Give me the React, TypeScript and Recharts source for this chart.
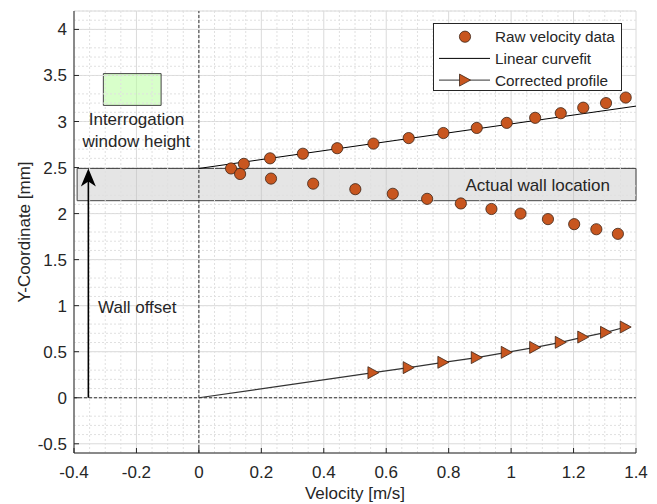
import React from "react";
import {
  ComposedChart,
  Line,
  Scatter,
  XAxis,
  YAxis,
  CartesianGrid,
  ReferenceLine,
  ReferenceArea,
  ReferenceDot,
  Legend,
} from "recharts";

const FONT = '"Liberation Sans", Arial, Helvetica, sans-serif';
const INK = "#262626";
const ORANGE = "#c8561f";
const EDGE = "#3d2416";
const FS = 17;

// axis ticks
const xTicks = [-0.4, -0.2, 0, 0.2, 0.4, 0.6, 0.8, 1, 1.2, 1.4];
const yTicks = [-0.5, 0, 0.5, 1, 1.5, 2, 2.5, 3, 3.5, 4];
const xDomain = [-0.4, 1.4];
const yDomain = [-0.6, 4.2];

// raw PIV velocity data (upper and mirrored branch)
const rawUpperX = [0.103, 0.144, 0.228, 0.333, 0.443, 0.559, 0.672, 0.783, 0.89, 0.986, 1.077, 1.159, 1.231, 1.304, 1.367];
const rawUpperY = [2.49, 2.54, 2.6, 2.65, 2.71, 2.76, 2.82, 2.875, 2.93, 2.985, 3.04, 3.09, 3.15, 3.2, 3.26];
const rawLowerX = [0.132, 0.231, 0.366, 0.501, 0.621, 0.731, 0.839, 0.937, 1.03, 1.118, 1.202, 1.273, 1.342];
const rawLowerY = [2.43, 2.38, 2.325, 2.265, 2.215, 2.16, 2.11, 2.05, 2.0, 1.94, 1.885, 1.83, 1.78];

// linear fit through the upper branch
const fitX = [0, 1.4];
const fitY = [2.49, 3.167];

// corrected profile (first point is the origin, no marker)
const corrX = [0, 0.559, 0.672, 0.783, 0.89, 0.986, 1.077, 1.159, 1.231, 1.304, 1.367];
const corrY = [0, 0.272, 0.327, 0.385, 0.436, 0.493, 0.547, 0.602, 0.659, 0.71, 0.768];

// annotations
const wallBand = { y1: 2.14, y2: 2.49 };
const windowBox = { x1: -0.306, x2: -0.121, y1: 3.175, y2: 3.52 };
const arrowX = -0.354;
const arrowY = [0, 2.49];

const raw = [
  ...rawUpperX.map((x, i) => ({ x, y: rawUpperY[i] })),
  ...rawLowerX.map((x, i) => ({ x, y: rawLowerY[i] })),
];
const fit = fitX.map((x, i) => ({ x, y: fitY[i] }));
const corrected = corrX.map((x, i) => ({ x, y: corrY[i] }));

const xMinor: number[] = [];
for (let i = 0; i <= 36; i++) if (i % 4) xMinor.push(+(-0.4 + i * 0.05).toFixed(2));
const yMinor: number[] = [];
for (let i = 0; i <= 48; i++) if (i % 5 && i !== 1) yMinor.push(+(-0.6 + i * 0.1).toFixed(1));

const fmt = (v: number) => String(+v.toFixed(1));

const BottomTick = ({ x, y, payload }: any) => (
  <g>
    <line x1={x} x2={x} y1={y} y2={y - 5} stroke={INK} />
    <text x={x} y={y + 25} textAnchor="middle" fill={INK} fontSize={FS}>
      {fmt(payload.value)}
    </text>
  </g>
);
const LeftTick = ({ x, y, payload }: any) => (
  <g>
    <line x1={x} x2={x + 5} y1={y} y2={y} stroke={INK} />
    <text x={x - 7} y={y + 6} textAnchor="end" fill={INK} fontSize={FS}>
      {fmt(payload.value)}
    </text>
  </g>
);
const TopTick = ({ x, y }: any) => <line x1={x} x2={x} y1={y} y2={y + 5} stroke={INK} />;
const RightTick = ({ x, y }: any) => <line x1={x - 5} x2={x} y1={y} y2={y} stroke={INK} />;

const Circle = ({ cx, cy }: any) => (
  <circle cx={cx} cy={cy} r={5.6} fill={ORANGE} stroke={EDGE} strokeWidth={0.8} />
);
const tri = (cx: number, cy: number) =>
  `M${cx - 5.5},${cy - 6} L${cx + 5.5},${cy} L${cx - 5.5},${cy + 6} Z`;

const TriDot = (p: any) => {
  if (p.index === 0) return <g key={p.key} />;
  return <path key={p.key} d={tri(p.cx, p.cy)} fill={ORANGE} stroke={EDGE} strokeWidth={0.8} />;
};

const Arrow = (p: any) => {
  const top = Math.min(p.y1, p.y2);
  const bot = Math.max(p.y1, p.y2);
  const x = p.x1;
  return (
    <g>
      <line x1={x} x2={x} y1={bot} y2={top + 12} stroke="#000" strokeWidth={1.6} />
      <path d={`M${x},${top} L${x + 7.5},${top + 18} L${x},${top + 13} L${x - 7.5},${top + 18} Z`} fill="#000" />
    </g>
  );
};

const windowLabel = ({ viewBox }: any) => (
  <text x={viewBox.x} y={viewBox.y} textAnchor="middle" fill={INK} fontSize={FS}>
    <tspan x={viewBox.x} dy={-5}>Interrogation</tspan>
    <tspan x={viewBox.x} dy={22}>window height</tspan>
  </text>
);
const offsetLabel = ({ viewBox }: any) => (
  <text x={viewBox.x} y={viewBox.y + 6} textAnchor="start" fill={INK} fontSize={FS}>
    Wall offset
  </text>
);

function LegendBox() {
  const rows = ["Raw velocity data", "Linear curvefit", "Corrected profile"];
  return (
    <div style={{ width: 189, height: 68, boxSizing: "border-box", border: `1px solid ${INK}`, background: "#fff" }}>
      <svg width={187} height={66}>
        {rows.map((r, i) => {
          const y = 12.7 + i * 21.7;
          return (
            <g key={r}>
              {i > 0 && <line x1={5} x2={56} y1={y} y2={y} stroke={i === 1 ? "#000" : "#333"} strokeWidth={1} />}
              {i === 0 && <circle cx={31} cy={y} r={5.6} fill={ORANGE} stroke={EDGE} strokeWidth={0.8} />}
              {i === 2 && <path d={tri(31, y)} fill={ORANGE} stroke={EDGE} strokeWidth={0.8} />}
              <text x={61} y={y + 5.5} fontSize={15.3} fill={INK} style={{ fontFamily: FONT }}>
                {r}
              </text>
            </g>
          );
        })}
      </svg>
    </div>
  );
}

export default function App() {
  return (
    <div style={{ position: "absolute", left: 0, top: 0, fontFamily: FONT, background: "#fff" }}>
      <ComposedChart width={657} height={504} margin={{ top: 11, right: 21, bottom: 0, left: 0 }}>
        <CartesianGrid stroke="#dadada" />
        {xMinor.map((v) => (
          <ReferenceLine key={"mx" + v} x={v} stroke="#e0e0e0" strokeDasharray="2 2" />
        ))}
        {yMinor.map((v) => (
          <ReferenceLine key={"my" + v} y={v} stroke="#e0e0e0" strokeDasharray="2 2" />
        ))}
        <XAxis
          type="number"
          dataKey="x"
          domain={xDomain}
          ticks={xTicks}
          allowDataOverflow
          height={51}
          tickSize={0}
          tickMargin={0}
          tickLine={false}
          tick={<BottomTick />}
          axisLine={{ stroke: INK }}
          label={{ value: "Velocity [m/s]", position: "insideBottom", offset: 5, fill: INK, fontSize: FS }}
        />
        <XAxis
          xAxisId="top"
          orientation="top"
          type="number"
          dataKey="x"
          domain={xDomain}
          ticks={xTicks}
          allowDataOverflow
          height={0}
          tickSize={0}
          tickMargin={0}
          tickLine={false}
          tick={<TopTick />}
          axisLine={{ stroke: INK }}
        />
        <YAxis
          type="number"
          dataKey="y"
          domain={yDomain}
          ticks={yTicks}
          allowDataOverflow
          width={74}
          tickSize={0}
          tickMargin={0}
          tickLine={false}
          tick={<LeftTick />}
          axisLine={{ stroke: INK }}
          label={{ value: "Y-Coordinate [mm]", angle: -90, position: "insideLeft", offset: 24, fill: INK, fontSize: FS, textAnchor: "middle" }}
        />
        <YAxis
          yAxisId="right"
          orientation="right"
          type="number"
          domain={yDomain}
          ticks={yTicks}
          allowDataOverflow
          width={0}
          tickSize={0}
          tickMargin={0}
          tickLine={false}
          tick={<RightTick />}
          axisLine={{ stroke: INK }}
        />
        <ReferenceArea
          x1={-0.39}
          x2={1.4}
          y1={wallBand.y1}
          y2={wallBand.y2}
          fill="#bdbdbd"
          fillOpacity={0.4}
          stroke="#444"
          strokeWidth={1}
          label={{ value: "Actual wall location", position: "insideRight", offset: 26, fill: INK, fontSize: FS }}
        />
        <ReferenceArea
          x1={windowBox.x1}
          x2={windowBox.x2}
          y1={windowBox.y1}
          y2={windowBox.y2}
          fill="#b8ff9e"
          fillOpacity={0.55}
          stroke="#444"
          strokeWidth={1}
        />
        <ReferenceLine x={0} stroke="#333" strokeDasharray="3 2" />
        <ReferenceLine y={0} stroke="#333" strokeDasharray="3 2" />
        <ReferenceLine
          segment={[
            { x: arrowX, y: arrowY[0] },
            { x: arrowX, y: arrowY[1] },
          ]}
          shape={<Arrow />}
        />
        <ReferenceDot x={-0.2} y={2.91} r={0} stroke="none" label={{ content: windowLabel }} />
        <ReferenceDot x={-0.323} y={0.99} r={0} stroke="none" label={{ content: offsetLabel }} />
        <Line data={fit} dataKey="y" stroke="#000" strokeWidth={1} dot={false} isAnimationActive={false} />
        <Line data={corrected} dataKey="y" stroke="#333" strokeWidth={1.2} dot={TriDot} isAnimationActive={false} />
        <Scatter data={raw} dataKey="y" shape={<Circle />} isAnimationActive={false} />
        <Legend
          layout="horizontal"
          verticalAlign="middle"
          align="center"
          wrapperStyle={{ left: 433, top: 23, width: 189, height: 68 }}
          content={<LegendBox />}
        />
      </ComposedChart>
    </div>
  );
}
